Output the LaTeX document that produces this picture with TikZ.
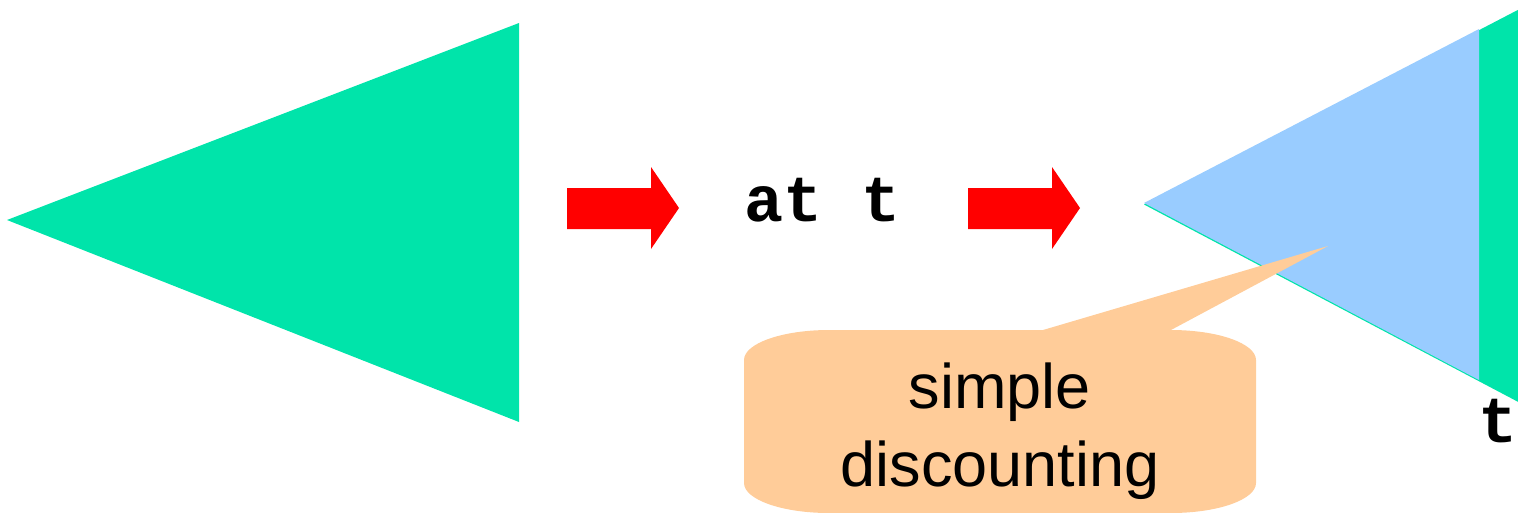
\documentclass[tikz,border=0pt]{standalone}
\usepackage{fontspec}
\setmainfont{Liberation Sans}
\setmonofont{Liberation Mono}
\definecolor{tealgreen}{RGB}{0,228,170}
\definecolor{skyblue}{RGB}{153,204,255}
\definecolor{peach}{RGB}{255,204,153}
\tikzset{
  wedge/.style={fill=tealgreen, draw=none},
  blockarrow/.style={fill=red, draw=none},
  codelabel/.style={font=\ttfamily\bfseries\fontsize{65}{65}\selectfont, inner sep=0pt, anchor=base west},
  bubbletext/.style={font=\fontsize{63}{78}\selectfont, inner sep=0pt, anchor=base},
}
\begin{document}
\begin{tikzpicture}[x=1pt, y=-1pt]
\useasboundingbox (0,0) rectangle (1518,512);
\clip (0,0) rectangle (1518,512);

% left cash-flow wedge
\fill[wedge] (7,220) -- (519,23) -- (519,422) -- cycle;

% block arrows
\fill[blockarrow] (567,188) -- (651,188) -- (651,167) -- (679,208) -- (651,249) -- (651,229) -- (567,229) -- cycle;
\node[codelabel] (att) at (744,221) {at t};
\fill[blockarrow] (968,188) -- (1052,188) -- (1052,167) -- (1080,208) -- (1052,249) -- (1052,229) -- (968,229) -- cycle;

% right wedge with discounted part in front
\fill[wedge] (1144,204.5) -- (1560,-12) -- (1560,424) -- cycle;
\fill[skyblue] (1144,203) -- (1479,29) -- (1479,380) -- cycle;
\node[codelabel] (tlabel) at (1478,442) {t};

% callout bubble
\fill[peach] (744,360) arc[start angle=180, end angle=270, x radius=85, y radius=30]
  -- (1043,330) -- (1328,246) -- (1171,330)
  arc[start angle=270, end angle=360, x radius=85, y radius=30]
  -- (1256,483)
  arc[start angle=0, end angle=90, x radius=85, y radius=30]
  -- (829,513)
  arc[start angle=90, end angle=180, x radius=85, y radius=30]
  -- cycle;
\node[bubbletext] (simple) at (1000,408) {simple};
\node[bubbletext] (disc) at (1000,486) {discounting};
\end{tikzpicture}
\end{document}
